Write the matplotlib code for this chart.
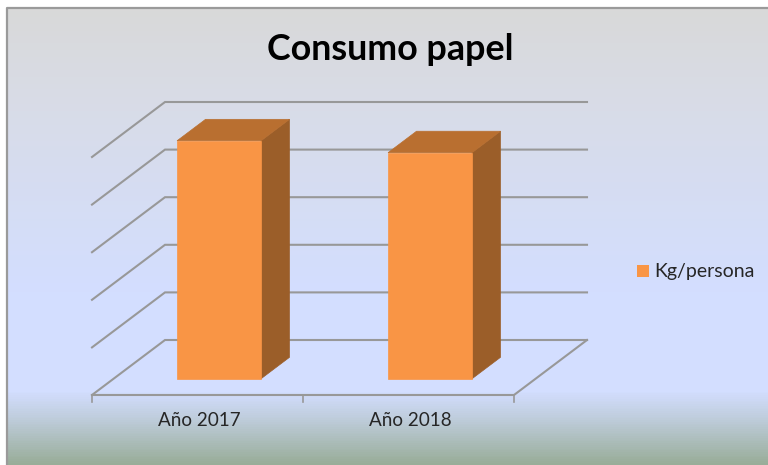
import numpy as np
import matplotlib
matplotlib.use("Agg")
import matplotlib.pyplot as plt
from matplotlib.patches import Polygon, Rectangle
from matplotlib.colors import LinearSegmentedColormap

categories = ["Año 2017", "Año 2018"]
values = [50.0, 47.5]
grid_values = [0, 10, 20, 30, 40, 50]
series_name = "Kg/persona"
title = "Consumo papel"

W, H = 768, 465
plt.rcParams["font.family"] = ["Lato", "Open Sans", "DejaVu Sans"]
fig = plt.figure(figsize=(W / 100, H / 100), dpi=100, facecolor="white")


def fr(x0, y0, x1, y1):
    return [x0 / W, 1 - y1 / H, (x1 - x0) / W, (y1 - y0) / H]


# background panel with gradient
bg = fig.add_axes(fr(7, 9, 768, 465), zorder=0)
stops = [(0.0, "#d9d9d9"), (0.22, "#d8dce8"), (0.62, "#d3deff"), (0.84, "#d3deff"),
         (0.90, "#bfcddc"), (1.0, "#99ad99")]
cmap = LinearSegmentedColormap.from_list("panel", stops)
bg.imshow(np.linspace(0, 1, 456)[:, None], aspect="auto", cmap=cmap, vmin=0, vmax=1)
bg.set_axis_off()
fig.add_artist(plt.Line2D([6.5 / W, 6.5 / W, 1], [0, 1 - 8 / H, 1 - 8 / H],
                          color="#9a9a9a", lw=1.6, transform=fig.transFigure))

# plot axes: front plane of the oblique 3-D box
ax = fig.add_axes(fr(92, 157, 514, 395), zorder=1)
ax.set_xlim(0, len(categories))
ax.set_ylim(0, 50)
ax.set_axis_off()
ax.patch.set_alpha(0)

DX = 73 / 422 * len(categories)   # full-depth shift in x data units
DY = 55 / 238 * 50                # full-depth shift in y data units


def proj(x, y, d):
    return x + d * DX, y + d * DY


GRID = "#989898"
for v in grid_values:
    p0, p1, p2 = proj(0, v, 0), proj(0, v, 1), proj(len(categories), v, 1)
    ax.plot([p0[0], p1[0], p2[0]], [p0[1], p1[1], p2[1]], color=GRID, lw=1.5,
            clip_on=False, solid_joinstyle="miter", zorder=1)

# floor
f1, f2 = proj(len(categories), 0, 0), proj(len(categories), 0, 1)
ax.plot([0, f1[0], f2[0]], [0, f1[1], f2[1]], color=GRID, lw=1.5, clip_on=False, zorder=1)
for i in range(len(categories) + 1):
    ax.plot([i, i], [0, -1.4], color=GRID, lw=1.2, clip_on=False, zorder=1)

# bars
BAR_W = 0.398
D0, D1 = 0.295, 0.685
FRONT, TOP, SIDE = "#f99545", "#b96f30", "#9b5e29"
for i, val in enumerate(values):
    xl = i + 0.5 - BAR_W / 2
    xr = i + 0.5 + BAR_W / 2
    front = [proj(xl, 0, D0), proj(xr, 0, D0), proj(xr, val, D0), proj(xl, val, D0)]
    top = [proj(xl, val, D0), proj(xr, val, D0), proj(xr, val, D1), proj(xl, val, D1)]
    side = [proj(xr, 0, D0), proj(xr, 0, D1), proj(xr, val, D1), proj(xr, val, D0)]
    ax.add_patch(Polygon(side, fc=SIDE, ec=SIDE, lw=0.5, zorder=3, clip_on=False))
    ax.add_patch(Polygon(top, fc=TOP, ec=TOP, lw=0.5, zorder=3, clip_on=False))
    ax.add_patch(Polygon(front, fc=FRONT, ec=FRONT, lw=0.5, zorder=4, clip_on=False))
    ax.annotate(categories[i], xy=(i + 0.5, 0), xytext=(1.1, -18.7), textcoords="offset points",
                ha="center", va="center", fontsize=13.6, color="#262626")

fig.text(390.5 / W, 1 - 49.5 / H, title, ha="center", va="center", fontsize=25.8,
         fontweight="bold", color="black")

fig.add_artist(Rectangle((637 / W, 1 - 277 / H), 12 / W, 12 / H, fc=FRONT, ec="none",
                         transform=fig.transFigure))
fig.text(654 / W, 1 - 271 / H, series_name, ha="left", va="center", fontsize=14, color="#262626")

fig.savefig("out.png", dpi=100, facecolor="white")
